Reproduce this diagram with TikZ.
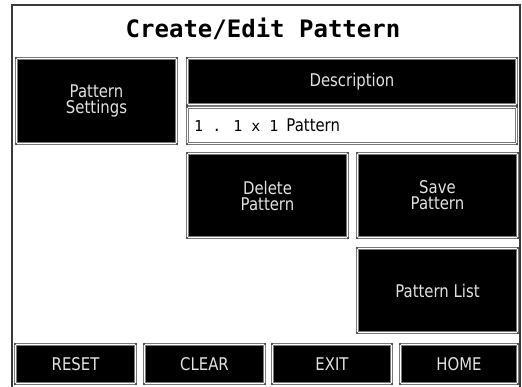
\documentclass[tikz,border=0pt]{standalone}
\usepackage{fontspec}
\setmainfont{DejaVu Sans}
\newfontfamily\btnfont[FakeStretch=0.85]{DejaVu Sans}
\newfontfamily\titlefont{DejaVu Sans Mono}
\newfontfamily\monofont{DejaVu Sans Mono}
\definecolor{rim}{HTML}{7A7A7A}
\definecolor{btntext}{HTML}{E2E2E2}
\definecolor{frameline}{HTML}{3A3A3A}
\tikzset{
  hmibtn/.style={rectangle, fill=black, draw=rim, double=white,
    line width=0.9pt, double distance=1.1pt, inner sep=0pt,
    text=btntext, align=center,
    font=\btnfont\fontsize{17.5}{16}\selectfont},
  hmifield/.style={hmibtn, fill=white, text=black},
  corner/.style={fill=frameline, circle, inner sep=0pt, minimum size=2.2pt}
}
\begin{document}
\begin{tikzpicture}[x=1pt, y=-1pt]
  \useasboundingbox (0,0) rectangle (522,387);
  % screen frame
  \draw[frameline, line width=1.2pt] (12,5) rectangle (520,389);
  % title
  \node[anchor=base, font=\titlefont\bfseries\fontsize{24}{26}\selectfont]
    (title) at (263,38) {Create/Edit Pattern};
  % upper area
  \node[hmibtn, minimum width=160, minimum height=85] (ps) at (96.5,101) {Pattern\\Settings};
  \node[hmibtn, minimum width=329, minimum height=46] (desc) at (352,81.5) {Description};
  \node[hmifield, minimum width=329, minimum height=36] (field) at (352,125.5) {};
  \node[anchor=base west, inner sep=0pt, font=\btnfont\fontsize{17.5}{17}\selectfont]
    (fieldtext) at (194,132) {{\monofont\fontsize{15}{17}\selectfont 1 . 1 x 1}\hspace{8pt}Pattern};
  % action buttons
  \node[hmibtn, minimum width=160, minimum height=84] (del) at (267.5,195.5) {Delete\\Pattern};
  \node[hmibtn, minimum width=160, minimum height=84] (save) at (437.5,195.5) {Save\\Pattern};
  \node[hmibtn, minimum width=160, minimum height=84] (list) at (437.5,290.5) {Pattern List};
  % bottom bar
  \node[hmibtn, minimum width=120, minimum height=39] (reset) at (75.5,364) {RESET};
  \node[hmibtn, minimum width=120, minimum height=39] (clear) at (204.5,364) {CLEAR};
  \node[hmibtn, minimum width=119, minimum height=39] (exit) at (332,364) {EXIT};
  \node[hmibtn, minimum width=117, minimum height=39] (home) at (459,364) {HOME};
  % corner rivets of the buttons
  \foreach \b in {ps,desc,field,del,save,list,reset,clear,exit,home}{
    \foreach \c in {north west,north east,south west,south east}{
      \node[corner] at (\b.\c) {};
    }
  }
\end{tikzpicture}
\end{document}
